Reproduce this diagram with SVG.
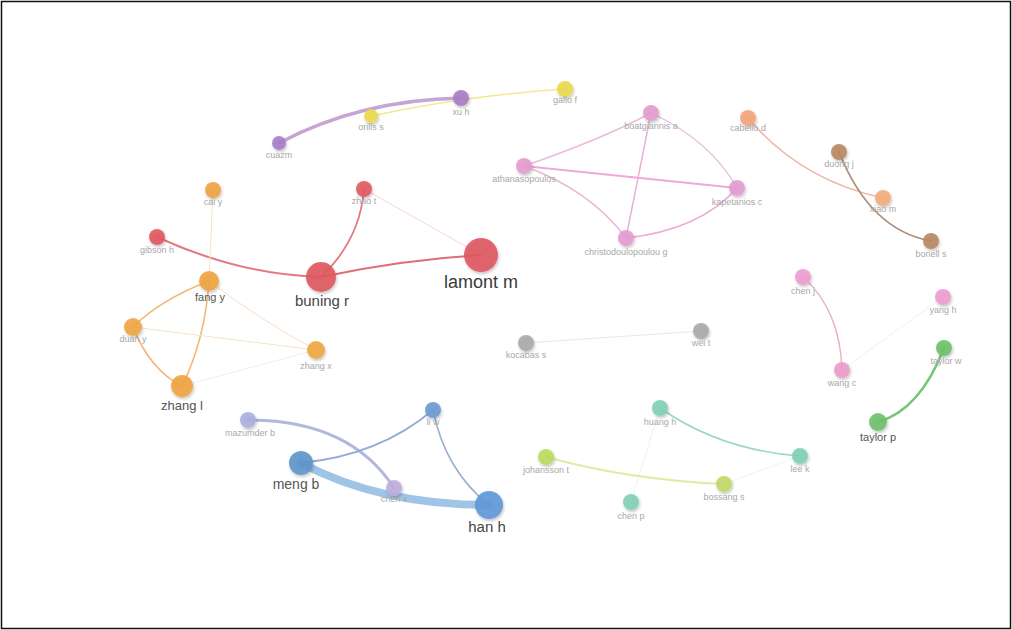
<svg xmlns="http://www.w3.org/2000/svg" width="1012" height="630" viewBox="0 0 1012 630">
<defs>
<filter id="sh" x="-50%" y="-50%" width="200%" height="200%">
<feGaussianBlur in="SourceGraphic" stdDeviation="0.5" result="g"/>
<feGaussianBlur in="SourceAlpha" stdDeviation="1.5"/>
<feOffset dx="1" dy="1.5" result="b"/>
<feComponentTransfer><feFuncA type="linear" slope="0.25"/></feComponentTransfer>
<feMerge><feMergeNode/><feMergeNode in="g"/></feMerge>
</filter>
<filter id="soft"><feGaussianBlur stdDeviation="0.6"/></filter>
</defs>
<style>
text{font-family:"Liberation Sans",Arial,sans-serif;text-anchor:middle}
.s{font-size:9px;fill:#a8a8a8}
.m{font-size:12px;fill:#555}
.l{font-size:15px;fill:#444}
.xl{font-size:18px;fill:#3a3a3a}
.e{fill:none;stroke-linecap:round}
circle{filter:url(#sh);fill-opacity:0.9}
</style>
<rect x="1.5" y="1.5" width="1009" height="627" fill="#fff" stroke="#111" stroke-width="1.5"/>
<g id="edges" filter="url(#soft)">
<path class="e" d="M279,143 Q360,100 461,98" stroke="#bc94cc" stroke-width="3.5" opacity="0.85"/>
<path class="e" d="M371,116 Q470,95 565,89" stroke="#eee274" stroke-width="1.5" opacity="0.8"/>
<path class="e" d="M524,166 Q600,140 651,113" stroke="#ecbadc" stroke-width="1.5"/>
<path class="e" d="M524,166 L737,188" stroke="#eeaad4" stroke-width="2"/>
<path class="e" d="M524,166 Q590,190 626,238" stroke="#e4bad6" stroke-width="1.5"/>
<path class="e" d="M651,113 L626,238" stroke="#eab0d6" stroke-width="1.5"/>
<path class="e" d="M651,113 Q710,140 737,188" stroke="#e4bad6" stroke-width="1.3"/>
<path class="e" d="M737,188 Q700,230 626,238" stroke="#eeaad4" stroke-width="1.8"/>
<path class="e" d="M748,118 Q800,180 883,198" stroke="#f2b0a0" stroke-width="1.5"/>
<path class="e" d="M839,152 Q870,230 931,241" stroke="#ae9080" stroke-width="1.8"/>
<path class="e" d="M157,237 Q240,275 321,277" stroke="#e27880" stroke-width="2"/>
<path class="e" d="M321,277 Q360,240 364,189" stroke="#e27880" stroke-width="1.8"/>
<path class="e" d="M321,277 Q400,260 481,255" stroke="#e06c74" stroke-width="2.2"/>
<path class="e" d="M364,189 L481,255" stroke="#f4ccc4" stroke-width="1" opacity="0.8"/>
<path class="e" d="M213,190 L209,281" stroke="#f6e2c6" stroke-width="1"/>
<path class="e" d="M209,281 Q160,300 133,327" stroke="#f3b878" stroke-width="1.6"/>
<path class="e" d="M133,327 Q150,370 182,386" stroke="#f3b878" stroke-width="1.8"/>
<path class="e" d="M209,281 Q205,340 182,386" stroke="#f3b878" stroke-width="1.6"/>
<path class="e" d="M209,281 Q260,320 316,350" stroke="#f8dcc0" stroke-width="1"/>
<path class="e" d="M133,327 L316,350" stroke="#f8e2cc" stroke-width="1"/>
<path class="e" d="M182,386 L316,350" stroke="#f4ece4" stroke-width="1"/>
<path class="e" d="M526,343 L701,331" stroke="#e8e8e8" stroke-width="1"/>
<path class="e" d="M248,420 Q350,420 394,488" stroke="#b0b8de" stroke-width="3"/>
<path class="e" d="M301,463 Q380,455 433,410" stroke="#92acd6" stroke-width="1.8"/>
<path class="e" d="M433,410 Q445,470 489,505" stroke="#98aed0" stroke-width="1.5"/>
<path class="e" d="M301,463 Q380,505 489,505" stroke="#8ebae2" stroke-width="8" opacity="0.85"/>
<path class="e" d="M803,277 Q840,310 842,370" stroke="#ecb0cc" stroke-width="1.5"/>
<path class="e" d="M943,297 L842,370" stroke="#f2eef2" stroke-width="1"/>
<path class="e" d="M944,348 Q920,410 878,422" stroke="#78c478" stroke-width="2.5"/>
<path class="e" d="M660,408 Q720,450 800,456" stroke="#98d8c4" stroke-width="1.6"/>
<path class="e" d="M660,408 L631,502" stroke="#eef2ee" stroke-width="1"/>
<path class="e" d="M546,457 Q630,480 724,484" stroke="#deeca4" stroke-width="2"/>
<path class="e" d="M724,484 L800,456" stroke="#eef4e4" stroke-width="1"/>
</g>
<g id="n-cuazm"><circle cx="279" cy="143" r="7" fill="#a97cc6"/><text class="s" x="279" y="158">cuazm</text></g>
<g id="n-orills"><circle cx="371" cy="116" r="7" fill="#ecd84c"/><text class="s" x="371" y="130">orills s</text></g>
<g id="n-xuh"><circle cx="461" cy="98" r="8" fill="#a87cc4"/><text class="s" x="461" y="115">xu h</text></g>
<g id="n-gallo"><circle cx="565" cy="89" r="8" fill="#ead94a"/><text class="s" x="565" y="103">gallo f</text></g>
<g id="n-boatg"><circle cx="651" cy="113" r="8" fill="#e49bd0"/><text class="s" x="651" y="129">boatgiannis a</text></g>
<g id="n-athan"><circle cx="524" cy="166" r="8" fill="#e49bd0"/><text class="s" x="524" y="182">athanasopoulos</text></g>
<g id="n-kapet"><circle cx="737" cy="188" r="8" fill="#e49bd0"/><text class="s" x="737" y="205">kapetanios c</text></g>
<g id="n-christo"><circle cx="626" cy="238" r="8" fill="#e49bd0"/><text class="s" x="626" y="255">christodoulopoulou g</text></g>
<g id="n-cabello"><circle cx="748" cy="118" r="8" fill="#f2a57a"/><text class="s" x="748" y="131">cabello d</text></g>
<g id="n-duong"><circle cx="839" cy="152" r="8" fill="#b88862"/><text class="s" x="839" y="167">duong j</text></g>
<g id="n-xiao"><circle cx="883" cy="198" r="8" fill="#f2ad7a"/><text class="s" x="883" y="212">xiao m</text></g>
<g id="n-bonell"><circle cx="931" cy="241" r="8" fill="#b68862"/><text class="s" x="931" y="257">bonell s</text></g>
<g id="n-zhaot"><circle cx="364" cy="189" r="8" fill="#e05a60"/><text class="s" x="364" y="204">zhao t</text></g>
<g id="n-caiy"><circle cx="213" cy="190" r="8" fill="#f0a440"/><text class="s" x="213" y="205">cai y</text></g>
<g id="n-gibson"><circle cx="157" cy="237" r="8" fill="#e05860"/><text class="s" x="157" y="253">gibson h</text></g>
<g id="n-buning"><circle cx="321" cy="277" r="15" fill="#e0585e"/><text class="l" x="322" y="306">buning r</text></g>
<g id="n-lamont"><circle cx="481" cy="255" r="17" fill="#df575e"/><text class="xl" x="481" y="288">lamont m</text></g>
<g id="n-fangy"><circle cx="209" cy="281" r="10" fill="#f0a440"/><text class="m" x="210" y="301" style="font-size:11px">fang y</text></g>
<g id="n-duany"><circle cx="133" cy="327" r="9" fill="#f0a644"/><text class="s" x="133" y="342">duan y</text></g>
<g id="n-zhangx"><circle cx="316" cy="350" r="9" fill="#f0a644"/><text class="s" x="316" y="369">zhang x</text></g>
<g id="n-zhangl"><circle cx="182" cy="386" r="11" fill="#f0a440"/><text class="m" x="182" y="410" style="font-size:13px">zhang l</text></g>
<g id="n-kocabas"><circle cx="526" cy="343" r="8" fill="#a8a8a8"/><text class="s" x="526" y="358">kocabas s</text></g>
<g id="n-wei"><circle cx="701" cy="331" r="8" fill="#a8a8a8"/><text class="s" x="701" y="346">wei t</text></g>
<g id="n-mazumder"><circle cx="248" cy="420" r="8" fill="#aab0de"/><text class="s" x="250" y="436">mazumder b</text></g>
<g id="n-liw"><circle cx="433" cy="410" r="8" fill="#6c9ad2"/><text class="s" x="433" y="425">li w</text></g>
<g id="n-meng"><circle cx="301" cy="463" r="12" fill="#5e95cc"/><text class="m" x="296" y="489" style="font-size:14px">meng b</text></g>
<g id="n-chenx"><circle cx="394" cy="488" r="8" fill="#bcaee0"/><text class="s" x="394" y="502">chen x</text></g>
<g id="n-han"><circle cx="489" cy="505" r="14" fill="#5e98d8"/><text class="l" x="487" y="532">han h</text></g>
<g id="n-chenj"><circle cx="803" cy="277" r="8" fill="#ee9cd0"/><text class="s" x="803" y="294">chen j</text></g>
<g id="n-yangh"><circle cx="943" cy="297" r="8" fill="#ee9cd0"/><text class="s" x="943" y="313">yang h</text></g>
<g id="n-wangc"><circle cx="842" cy="370" r="8" fill="#ec9ccc"/><text class="s" x="842" y="386">wang c</text></g>
<g id="n-taylorw"><circle cx="944" cy="348" r="8" fill="#6ec06c"/><text class="s" x="946" y="364">taylor w</text></g>
<g id="n-taylorp"><circle cx="878" cy="422" r="9" fill="#6ec06c"/><text class="m" x="878" y="441" style="font-size:11px">taylor p</text></g>
<g id="n-huang"><circle cx="660" cy="408" r="8" fill="#80d0b4"/><text class="s" x="660" y="425">huang h</text></g>
<g id="n-lee"><circle cx="800" cy="456" r="8" fill="#80d0b4"/><text class="s" x="800" y="472">lee k</text></g>
<g id="n-johans"><circle cx="546" cy="457" r="8" fill="#bada60"/><text class="s" x="546" y="473">johansson t</text></g>
<g id="n-boss"><circle cx="724" cy="484" r="8" fill="#c0d868"/><text class="s" x="724" y="500">bossang s</text></g>
<g id="n-chenp"><circle cx="631" cy="502" r="8" fill="#80d0b4"/><text class="s" x="631" y="519">chen p</text></g>
</svg>
